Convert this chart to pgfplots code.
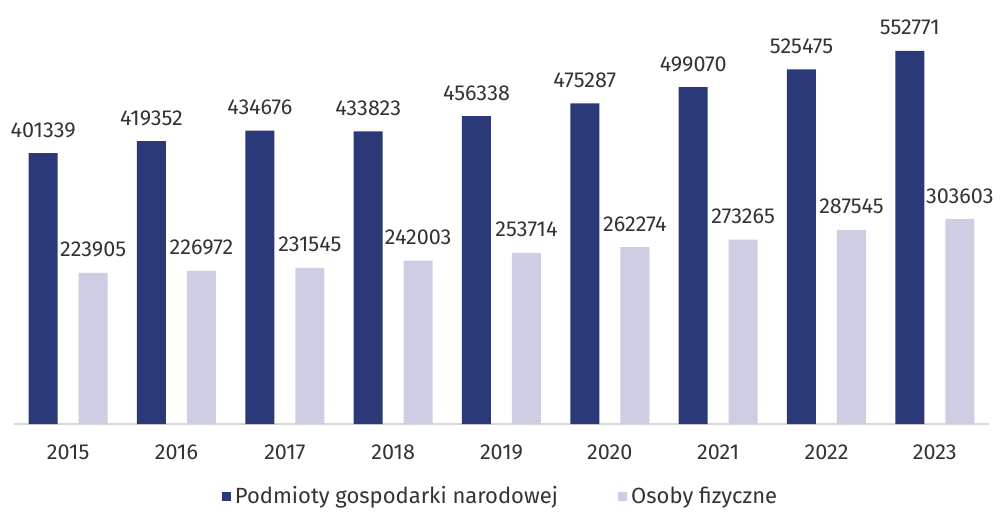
\documentclass[border=0pt]{standalone}
\usepackage{fontspec}
\setmainfont{Fira Sans}
\usepackage{pgfplots}
\pgfplotsset{compat=1.18}
\definecolor{navy}{HTML}{2C3979}
\definecolor{lav}{HTML}{CDCDE4}
\definecolor{txt}{HTML}{333333}
\definecolor{axl}{HTML}{D9D9D9}
\begin{document}
\begin{tikzpicture}
\begin{axis}[
  scale only axis, width=487.5pt, height=207pt,
  xmin=-0.5, xmax=8.5, ymin=0, ymax=613500,
  axis x line*=bottom, axis y line=none,
  x axis line style={draw=axl, line width=0.8pt, -},
  xtick={0,...,8},
  xticklabels={2015,2016,2017,2018,2019,2020,2021,2022,2023},
  xtick style={draw=none},
  xticklabel style={font=\fontsize{10.8}{13}\selectfont, text=txt, yshift=-2.5pt},
  /pgf/number format/assume math mode=true,
  ybar, bar width=14.5pt,
  nodes near coords,
  nodes near coords style={font=\fontsize{10.8}{13}\selectfont, text=txt, anchor=base, yshift=8pt, inner sep=0pt,
    /pgf/number format/.cd, fixed, precision=0, 1000 sep={}},
  clip=false,
  legend columns=2,
  legend style={at={(0.5,-0.176)}, anchor=center, draw=none, fill=none,
    font=\fontsize{11}{13}\selectfont, text=txt,
    /tikz/every even column/.append style={column sep=28pt}},
  legend image code/.code={\fill[#1] (0pt,-2.2pt) rectangle (4.6pt,2.4pt);},
]
\addplot[fill=navy, draw=none, bar shift=-12.5pt] coordinates {
(0,401339) (1,419352) (2,434676) (3,433823) (4,456338) (5,475287) (6,499070) (7,525475) (8,552771)};
\addlegendentry{Podmioty gospodarki narodowej}
\addplot[fill=lav, draw=none, bar shift=12.5pt] coordinates {
(0,223905) (1,226972) (2,231545) (3,242003) (4,253714) (5,262274) (6,273265) (7,287545) (8,303603)};
\addlegendentry{Osoby fizyczne}
\coordinate (bl) at (rel axis cs:0,0);
\end{axis}
\pgfresetboundingbox
\path[use as bounding box] ([shift={(-7pt,-43.5pt)}]bl) rectangle ([shift={(493pt,212pt)}]bl);
\end{tikzpicture}
\end{document}
